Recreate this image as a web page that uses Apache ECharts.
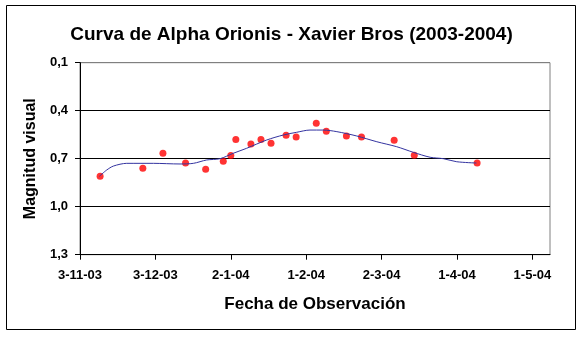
<!DOCTYPE html>
<html>
<head>
<meta charset="utf-8">
<script src="https://cdn.jsdelivr.net/npm/echarts@6/dist/echarts.min.js"></script>
<style>html,body{margin:0;padding:0;background:#fff;}#c{width:583px;height:337px;}</style>
</head>
<body>
<div id="c"></div>
<script>
// Observation dates and visual magnitudes
const obsDates = ['2003-11-11','2003-11-28','2003-12-06','2003-12-15','2003-12-23','2003-12-30',
  '2004-01-02','2004-01-04','2004-01-10','2004-01-14','2004-01-18','2004-01-24','2004-01-28',
  '2004-02-05','2004-02-09','2004-02-17','2004-02-23','2004-03-07','2004-03-15','2004-04-09'];
const obsMag = [0.81,0.76,0.666,0.727,0.766,0.716,0.68,0.58,0.608,0.58,0.604,0.554,0.564,
  0.479,0.529,0.558,0.564,0.585,0.679,0.727];
// Smoothed curve (days since 3-11-03, magnitude)
const trendDays = [7.7,10.6,13.3,18.6,29.2,39.8,45.1,50.4,55.7,61.0,66.3,74.3,80.9,86.2,91.5,96.8,
  102.2,110.1,118.1,126.0,132.6,139.3,144.6,149.9,157.7];
const trendMag = [0.81,0.771,0.746,0.729,0.729,0.733,0.729,0.708,0.70,0.666,0.635,0.583,0.552,0.535,
  0.521,0.521,0.531,0.558,0.594,0.625,0.66,0.691,0.70,0.719,0.727];
const startDate = '2003-11-03';
const tickDays = [0,30,60,90,120,150,180];
const yTicks = [0.1,0.4,0.7,1.0,1.3];

const t0 = Date.parse(startDate + 'T00:00:00Z');
const toDay = s => Math.round((Date.parse(s + 'T00:00:00Z') - t0) / 86400000);
const fmtDate = v => {
  const d = new Date(t0 + Math.round(v) * 86400000);
  return d.getUTCDate() + '-' + (d.getUTCMonth() + 1) + '-' + String(d.getUTCFullYear()).slice(2);
};
const FONT = '"Liberation Sans", Arial, sans-serif';

const chart = echarts.init(document.getElementById('c'), null, {renderer: 'canvas'});
chart.setOption({
  backgroundColor: '#fff',
  animation: false,
  title: {
    text: 'Curva de Alpha Orionis - Xavier Bros (2003-2004)',
    left: 'center', top: 20,
    textStyle: {fontFamily: FONT, fontSize: 19, fontWeight: 'bold', color: '#000'}
  },
  graphic: [{
    type: 'rect', shape: {x: 6.5, y: 5.5, width: 569, height: 324},
    style: {fill: 'none', stroke: '#000', lineWidth: 1}, silent: true
  }],
  grid: {left: 80, right: 33, top: 62.7, bottom: 82.3, show: true,
    borderColor: '#808080', borderWidth: 1, backgroundColor: 'transparent'},
  xAxis: {
    type: 'value', min: 0, max: 187, interval: 30,
    name: 'Fecha de Observación', nameLocation: 'middle', nameGap: 41,
    nameTextStyle: {fontFamily: FONT, fontSize: 17, fontWeight: 'bold', color: '#000'},
    axisLine: {show: true, lineStyle: {color: '#000', width: 1}},
    axisTick: {show: true, length: 5, inside: false, lineStyle: {color: '#000'}, customValues: tickDays},
    axisLabel: {customValues: tickDays, formatter: v => fmtDate(v), margin: 14,
      fontFamily: FONT, fontSize: 13, fontWeight: 'bold', color: '#000'},
    splitLine: {show: false}
  },
  yAxis: {
    type: 'value', min: 0.1, max: 1.3, interval: 0.3, inverse: true,
    name: 'Magnitud visual', nameLocation: 'middle', nameGap: 41,
    nameTextStyle: {fontFamily: FONT, fontSize: 16, fontWeight: 'bold', color: '#000'},
    axisLine: {show: true, lineStyle: {color: '#000', width: 1}},
    axisTick: {show: true, length: 5, inside: false, lineStyle: {color: '#000'}},
    axisLabel: {formatter: v => v.toFixed(1).replace('.', ','), margin: 12,
      fontFamily: FONT, fontSize: 13, fontWeight: 'bold', color: '#000'},
    splitLine: {show: true, lineStyle: {color: ['#808080','#000','#000','#000','#000'], width: 1}}
  },
  series: [
    {
      type: 'scatter', symbol: 'circle', symbolSize: 7, z: 2,
      itemStyle: {color: '#FF0000'},
      data: obsDates.map((d, i) => [toDay(d), obsMag[i]])
    },
    {
      type: 'line', smooth: 0.3, showSymbol: false, z: 3,
      lineStyle: {color: '#3333A0', width: 1},
      data: trendDays.map((d, i) => [d, trendMag[i]])
    }
  ]
});
</script>
</body>
</html>
